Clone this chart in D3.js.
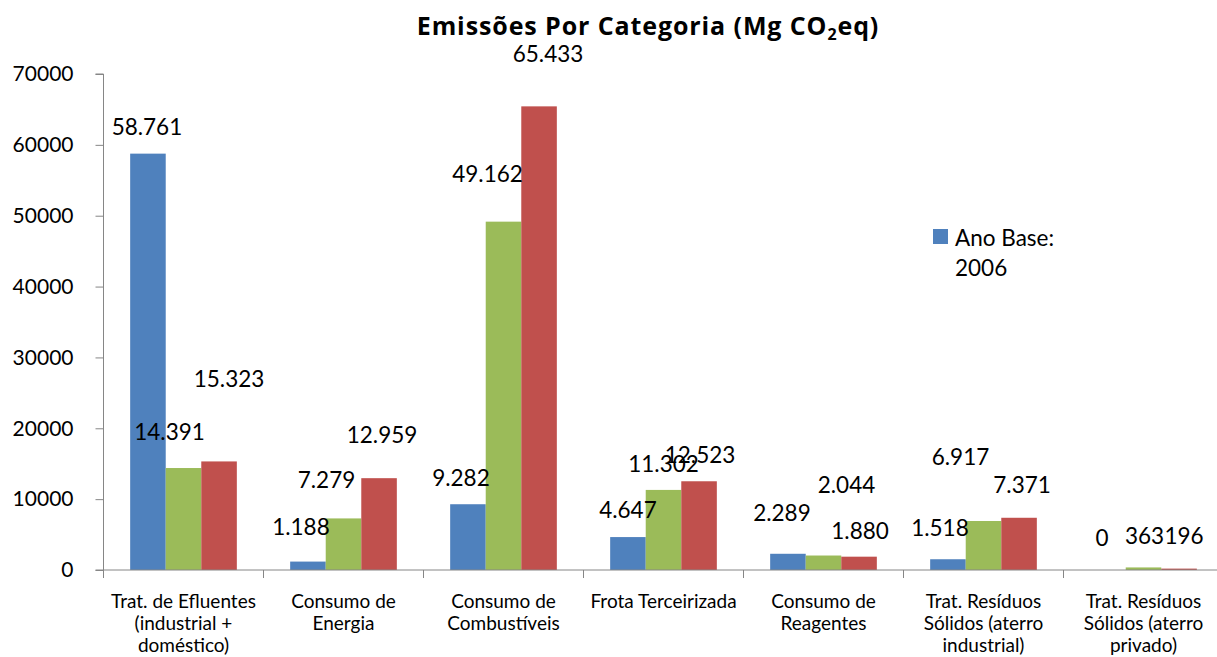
<!DOCTYPE html>
<html><head><meta charset="utf-8">
<script src="https://cdn.jsdelivr.net/npm/d3@7"></script>
<style>body{margin:0;background:#fff}svg{display:block;font-family:Lato,"Open Sans",sans-serif}</style>
</head><body><svg id="chart" width="1217" height="657"></svg>
<script>
const categories = [
  ["Trat. de Efluentes","(industrial +","doméstico)"],
  ["Consumo de","Energia"],
  ["Consumo de","Combustíveis"],
  ["Frota Terceirizada"],
  ["Consumo de","Reagentes"],
  ["Trat. Resíduos","Sólidos (aterro","industrial)"],
  ["Trat. Resíduos","Sólidos (aterro","privado)"]
];
const seriesNames = ["Ano Base: 2006", "Série 2", "Série 3"];
const seriesA = [58761, 1188, 9282, 4647, 2289, 1518, 0];
const seriesB = [14391, 7279, 49162, 11302, 2044, 6917, 363];
const seriesC = [15323, 12959, 65433, 12523, 1880, 7371, 196];
const yTicks = [0, 10000, 20000, 30000, 40000, 50000, 60000, 70000];
const colors = ["#4F81BD", "#9BBB59", "#C0504D"];
// label placement offsets (dx, dy) relative to bar centre / bar top, mimicking the original
const labelOffsets = [
  [[-1,-19],[-14,-28],[10,-74]],
  [[-7,-27],[-17,-30],[3,-35]],
  [[-7,-18],[-16,-40],[9,-44]],
  [[0,-19],[0,-18],[1,-18]],
  [[-6,-33],[23,-63],[1,-18]],
  [[-8,-23],[-23,-56],[3,-25]],
  [[-6,-24],[1,-23],[5,-25]]
];

(function(){
const series = [seriesA, seriesB, seriesC];
const svg = d3.select("#chart");
const left = 103.5, bandW = 160, bottomY = 570, topY = 74;
const x = d3.scaleBand().domain(d3.range(categories.length))
  .range([left, left + bandW * categories.length]).paddingInner(0).paddingOuter(0);
const inner = d3.scaleBand().domain(d3.range(3)).range([0, x.bandwidth()])
  .paddingOuter(0.75).paddingInner(0);
const y = d3.scaleLinear().domain([0, 70000]).range([bottomY, topY]);
const loc = d3.formatLocale({decimal: ",", thousands: ".", grouping: [3], currency: ["R$", ""]});
const fmt = loc.format(",d");

// title
const title = svg.append("text").attr("x", 648).attr("y", 35).attr("text-anchor", "middle")
  .attr("font-family", "'Open Sans', Lato, sans-serif")
  .attr("font-weight", "bold").attr("font-size", 25).attr("letter-spacing", 0.9).attr("fill", "#000");
title.append("tspan").text("Emissões Por Categoria (Mg CO");
title.append("tspan").attr("font-size", 16).attr("dy", 5).text("2");
title.append("tspan").attr("dy", -5).text("eq)");

// bars
const g = svg.append("g");
series.forEach((vals, s) => {
  g.selectAll(null).data(vals).enter().append("rect")
    .attr("x", (d, i) => x(i) + inner(s))
    .attr("width", inner.bandwidth())
    .attr("y", d => y(d))
    .attr("height", d => y(0) - y(d))
    .attr("fill", colors[s]);
});

// axes
const axisColor = "#868686";
const yAxis = svg.append("g").attr("transform", `translate(${left},0)`)
  .call(d3.axisLeft(y).tickValues(yTicks).tickSize(8).tickPadding(22).tickFormat(d3.format("d")));
yAxis.select(".domain").attr("stroke", axisColor).attr("d", `M-8,${topY}H0V${bottomY}`);
yAxis.selectAll(".tick line").attr("stroke", axisColor);
yAxis.selectAll(".tick text").attr("font-size", 21).attr("fill", "#000").attr("font-family", "Lato");

const xAxis = svg.append("g").attr("transform", `translate(0,${bottomY})`);
xAxis.append("line").attr("x1", left - 8).attr("x2", 1217).attr("y1", 0).attr("y2", 0).attr("stroke", axisColor);
xAxis.selectAll(null).data(d3.range(categories.length + 1)).enter().append("line")
  .attr("x1", i => left + bandW * i).attr("x2", i => left + bandW * i)
  .attr("y1", 0).attr("y2", 8).attr("stroke", axisColor);
xAxis.selectAll(null).data(categories).enter().append("text")
  .attr("text-anchor", "middle").attr("font-size", 19).attr("fill", "#000")
  .each(function(lines, i) {
    const t = d3.select(this);
    lines.forEach((ln, k) => t.append("tspan").attr("x", x(i) + x.bandwidth() / 2)
      .attr("y", 38 + k * 22).text(ln));
  });

// data labels
series.forEach((vals, s) => {
  svg.selectAll(null).data(vals).enter().append("text")
    .attr("x", (d, i) => x(i) + inner(s) + inner.bandwidth() / 2 + labelOffsets[i][s][0])
    .attr("y", (d, i) => y(d) + labelOffsets[i][s][1])
    .attr("text-anchor", "middle").attr("font-size", 22.5).attr("fill", "#000")
    .text(d => fmt(d));
});

// legend (only first series shown in original)
const lg = svg.append("g");
lg.append("rect").attr("x", 933).attr("y", 229).attr("width", 15).attr("height", 15).attr("fill", colors[0]);
const lt = lg.append("text").attr("font-size", 22.5).attr("fill", "#000");
const parts = seriesNames[0].split(" ");
lt.append("tspan").attr("x", 955).attr("y", 246).text(parts[0] + " " + parts[1]);
lt.append("tspan").attr("x", 955).attr("y", 276).text(parts[2]);
})();
</script></body></html>
